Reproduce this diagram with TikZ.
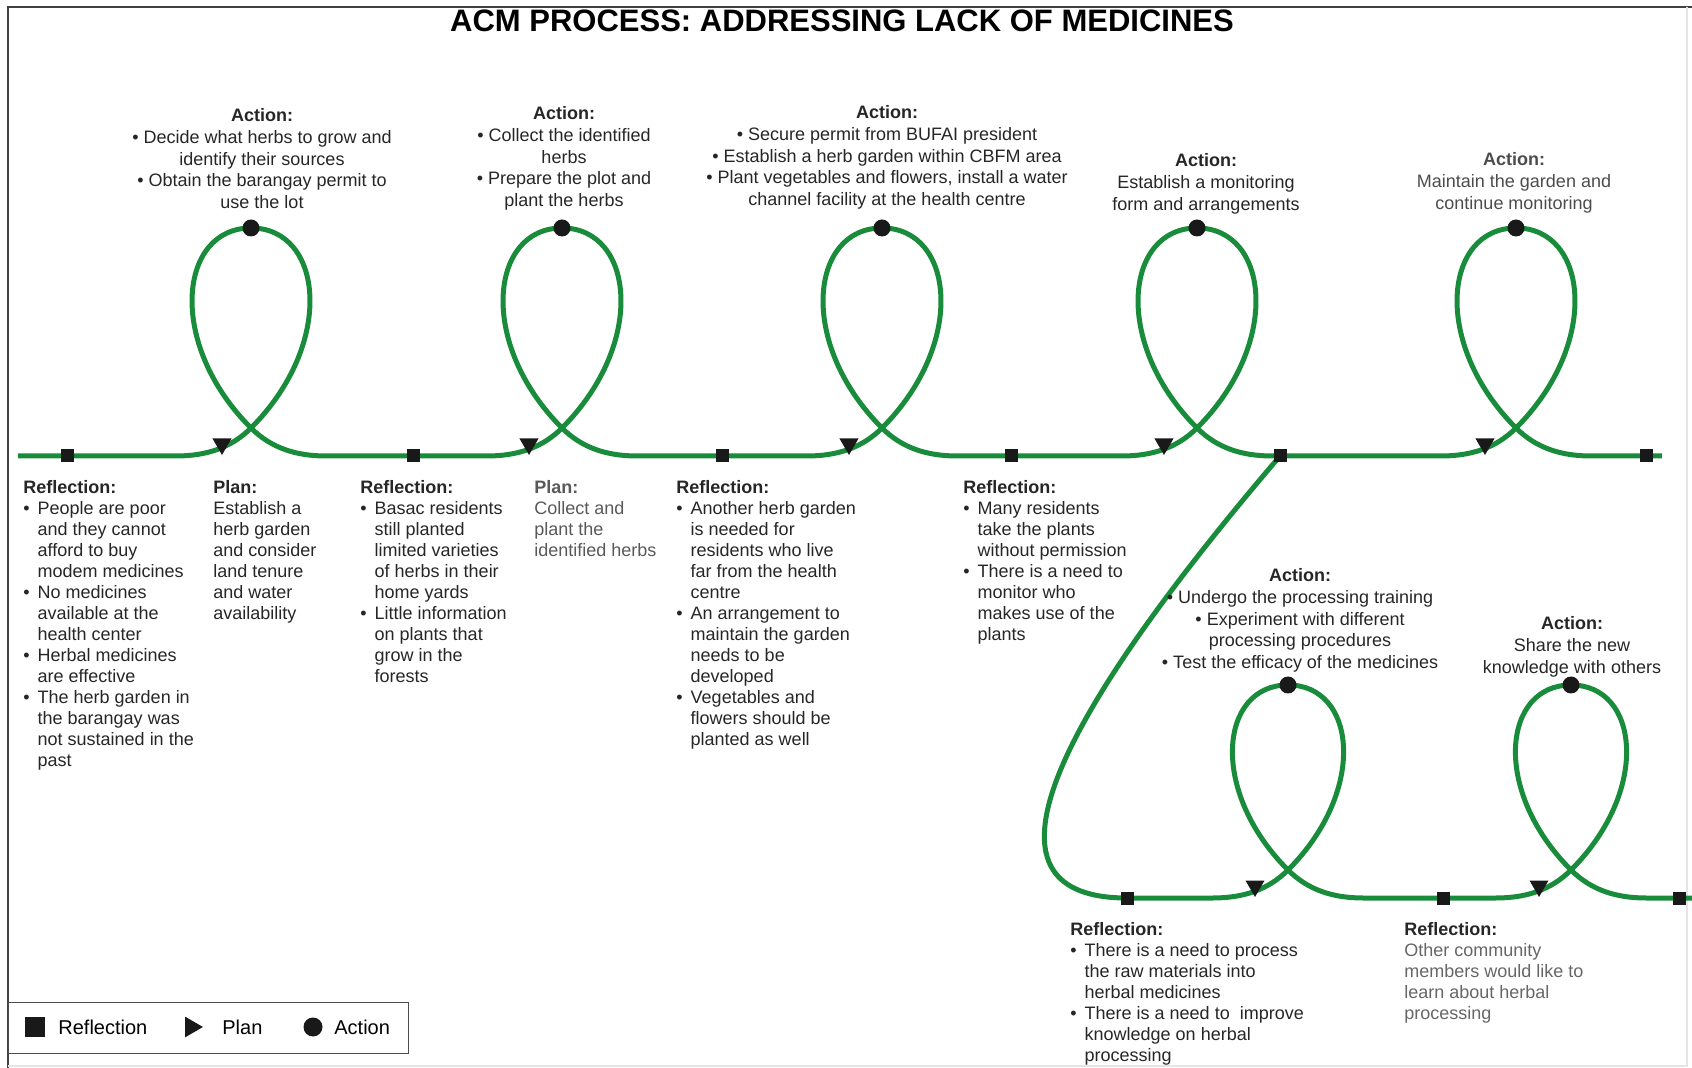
\documentclass[tikz,border=0pt]{standalone}
\usepackage{fontspec}
\setmainfont{Liberation Sans}
\usepackage{tikz}
\usepackage{xcolor}
\usetikzlibrary{shapes.geometric}
\definecolor{acmgreen}{RGB}{25,140,60}
\tikzset{
    acm-line/.style = {draw=acmgreen, line width=2.5pt},
    refl-mark/.style = {fill=black!90, rectangle, minimum size=6.5pt, inner sep=0pt},
    plan-mark/.style = {fill=black!90, regular polygon, regular polygon sides=3, shape border rotate=180, minimum size=11pt, inner sep=0pt},
    act-mark/.style = {fill=black!90, circle, minimum size=8.5pt, inner sep=0pt},
    note/.style = {inner sep=0pt, font=\fontsize{9}{10.5}\selectfont, text=black!85},
    act-note/.style = {note, align=center, anchor=north, font=\fontsize{9}{10.9}\selectfont},
    key-text/.style = {inner sep=0pt, font=\fontsize{10}{12}\selectfont, anchor=west},
}

\begin{document}
\begin{tikzpicture}[x=0.5pt, y=-0.5pt]
\useasboundingbox (0,0) rectangle (1692,1068);
% frame
\draw[black!75, line width=0.8pt] (8,1068) -- (8,7) -- (1692,7);
\draw[black!10, line width=0.6pt] (1687,7) -- (1687,1066) -- (8,1066);

\node[font=\fontsize{15.5}{18}\selectfont\bfseries, anchor=base, inner sep=0pt] (title) at (842,32) {ACM PROCESS: ADDRESSING LACK OF MEDICINES};

% upper row of the spiral
\draw[acm-line] (18,456) -- (176,456)
    .. controls (206,456) and (231,448) .. (251,428)
    .. controls (336,343) and (323,228) .. (251,228)
    .. controls (179,228) and (166,343) .. (251,428)
    .. controls (271,448) and (296,456) .. (326,456)
    -- (487,456)
    .. controls (517,456) and (542,448) .. (562,428)
    .. controls (647,343) and (634,228) .. (562,228)
    .. controls (490,228) and (477,343) .. (562,428)
    .. controls (582,448) and (607,456) .. (637,456)
    -- (807,456)
    .. controls (837,456) and (862,448) .. (882,428)
    .. controls (967,343) and (954,228) .. (882,228)
    .. controls (810,228) and (797,343) .. (882,428)
    .. controls (902,448) and (927,456) .. (957,456)
    -- (1122,456)
    .. controls (1152,456) and (1177,448) .. (1197,428)
    .. controls (1282,343) and (1269,228) .. (1197,228)
    .. controls (1125,228) and (1112,343) .. (1197,428)
    .. controls (1217,448) and (1242,456) .. (1272,456)
    -- (1441,456)
    .. controls (1471,456) and (1496,448) .. (1516,428)
    .. controls (1601,343) and (1588,228) .. (1516,228)
    .. controls (1444,228) and (1431,343) .. (1516,428)
    .. controls (1536,448) and (1561,456) .. (1591,456)
    -- (1662,456);

% branch down to the lower row
\draw[acm-line] (1280,456) .. controls (1033,745) and (977,898) .. (1127,898)
    -- (1213,898)
    .. controls (1243,898) and (1268,890) .. (1288,870)
    .. controls (1368,790) and (1356,685) .. (1288,685)
    .. controls (1220,685) and (1208,790) .. (1288,870)
    .. controls (1308,890) and (1333,898) .. (1363,898)
    -- (1496,898)
    .. controls (1526,898) and (1551,890) .. (1571,870)
    .. controls (1651,790) and (1639,685) .. (1571,685)
    .. controls (1503,685) and (1491,790) .. (1571,870)
    .. controls (1591,890) and (1616,898) .. (1646,898)
    -- (1692,898);

% markers
\node[refl-mark] (refl1) at (67,456) {};
\node[refl-mark] (refl2) at (413,456) {};
\node[refl-mark] (refl3) at (722,456) {};
\node[refl-mark] (refl4) at (1011,456) {};
\node[refl-mark] (refl5) at (1280,456) {};
\node[refl-mark] (refl6) at (1646,456) {};
\node[refl-mark] (refl7) at (1127,898) {};
\node[refl-mark] (refl8) at (1443,898) {};
\node[refl-mark] (refl9) at (1679,898) {};

\node[plan-mark] (plan1) at (222,444) {};
\node[plan-mark] (plan2) at (529,444) {};
\node[plan-mark] (plan3) at (849,444) {};
\node[plan-mark] (plan4) at (1164,444) {};
\node[plan-mark] (plan5) at (1485,444) {};
\node[plan-mark] (plan6) at (1255,886) {};
\node[plan-mark] (plan7) at (1539,886) {};

\node[act-mark] (act1) at (251,228) {};
\node[act-mark] (act2) at (562,228) {};
\node[act-mark] (act3) at (882,228) {};
\node[act-mark] (act4) at (1197,228) {};
\node[act-mark] (act5) at (1516,228) {};
\node[act-mark] (act6) at (1288,685) {};
\node[act-mark] (act7) at (1571,685) {};

% action texts
\node[act-note] (act1-text) at (262,108) {\textbf{Action:}\\
    \textbullet\ Decide what herbs to grow and\\ identify their sources\\
    \textbullet\ Obtain the barangay permit to\\ use the lot};
\node[act-note] (act2-text) at (564,106) {\textbf{Action:}\\
    \textbullet\ Collect the identified\\ herbs\\
    \textbullet\ Prepare the plot and\\ plant the herbs};
\node[act-note] (act3-text) at (887,105) {\textbf{Action:}\\
    \textbullet\ Secure permit from BUFAI president\\
    \textbullet\ Establish a herb garden within CBFM area\\
    \textbullet\ Plant vegetables and flowers, install a water\\ channel facility at the health centre};
\node[act-note] (act4-text) at (1206,153) {\textbf{Action:}\\ Establish a monitoring\\ form and arrangements};
\node[act-note, text=black!70] (act5-text) at (1514,152) {\textbf{Action:}\\ Maintain the garden and\\ continue monitoring};
\node[act-note] (act6-text) at (1300,568) {\textbf{Action:}\\
    \textbullet\ Undergo the processing training\\
    \textbullet\ Experiment with different\\ processing procedures\\
    \textbullet\ Test the efficacy of the medicines};
\node[act-note] (act7-text) at (1572,616) {\textbf{Action:}\\ Share the new\\ knowledge with others};

% reflection and plan texts
\node[note, anchor=north west] (refl1-text) at (23,478) {\begin{tabular}{@{}l@{\hspace{4pt}}l@{}}
    \multicolumn{2}{@{}l@{}}{\textbf{Reflection:}}\\
    \textbullet & People are poor\\ & and they cannot\\ & afford to buy\\ & modem medicines\\
    \textbullet & No medicines\\ & available at the\\ & health center\\
    \textbullet & Herbal medicines\\ & are effective\\
    \textbullet & The herb garden in\\ & the barangay was\\ & not sustained in the\\ & past
\end{tabular}};
\node[note, anchor=north west] (plan1-text) at (213,478) {\begin{tabular}{@{}l@{}}
    \textbf{Plan:}\\ Establish a\\ herb garden\\ and consider\\ land tenure\\ and water\\ availability
\end{tabular}};
\node[note, anchor=north west] (refl2-text) at (360,478) {\begin{tabular}{@{}l@{\hspace{4pt}}l@{}}
    \multicolumn{2}{@{}l@{}}{\textbf{Reflection:}}\\
    \textbullet & Basac residents\\ & still planted\\ & limited varieties\\ & of herbs in their\\ & home yards\\
    \textbullet & Little information\\ & on plants that\\ & grow in the\\ & forests
\end{tabular}};
\node[note, anchor=north west, text=black!65] (plan2-text) at (534,478) {\begin{tabular}{@{}l@{}}
    \textbf{Plan:}\\ Collect and\\ plant the\\ identified herbs
\end{tabular}};
\node[note, anchor=north west] (refl3-text) at (676,478) {\begin{tabular}{@{}l@{\hspace{4pt}}l@{}}
    \multicolumn{2}{@{}l@{}}{\textbf{Reflection:}}\\
    \textbullet & Another herb garden\\ & is needed for\\ & residents who live\\ & far from the health\\ & centre\\
    \textbullet & An arrangement to\\ & maintain the garden\\ & needs to be\\ & developed\\
    \textbullet & Vegetables and\\ & flowers should be\\ & planted as well
\end{tabular}};
\node[note, anchor=north west] (refl4-text) at (963,478) {\begin{tabular}{@{}l@{\hspace{4pt}}l@{}}
    \multicolumn{2}{@{}l@{}}{\textbf{Reflection:}}\\
    \textbullet & Many residents\\ & take the plants\\ & without permission\\
    \textbullet & There is a need to\\ & monitor who\\ & makes use of the\\ & plants
\end{tabular}};
\node[note, anchor=north west] (refl7-text) at (1070,920) {\begin{tabular}{@{}l@{\hspace{4pt}}l@{}}
    \multicolumn{2}{@{}l@{}}{\textbf{Reflection:}}\\
    \textbullet & There is a need to process\\ & the raw materials into\\ & herbal medicines\\
    \textbullet & There is a need to\ \ improve\\ & knowledge on herbal\\ & processing
\end{tabular}};
\node[note, anchor=north west] (refl8-text) at (1404,920) {\begin{tabular}{@{}l@{}}
    \textbf{Reflection:}\\ \textcolor{black!60}{Other community}\\ \textcolor{black!60}{members would like to}\\
    \textcolor{black!60}{learn about herbal}\\ \textcolor{black!60}{processing}
\end{tabular}};

% legend
\node[draw=black!70, line width=0.6pt, minimum width=200pt, minimum height=25.5pt, inner sep=0pt, anchor=north west] (legend) at (8,1002) {};
\node[refl-mark, minimum size=10pt] (key-refl) at (35,1027) {};
\node[key-text] (key-refl-text) at (58,1027) {Reflection};
\node[plan-mark, minimum size=12pt, shape border rotate=-90] (key-plan) at (191,1027) {};
\node[key-text] (key-plan-text) at (222,1027) {Plan};
\node[act-mark, minimum size=9.5pt] (key-act) at (313,1027) {};
\node[key-text] (key-act-text) at (334,1027) {Action};
\end{tikzpicture}
\end{document}
